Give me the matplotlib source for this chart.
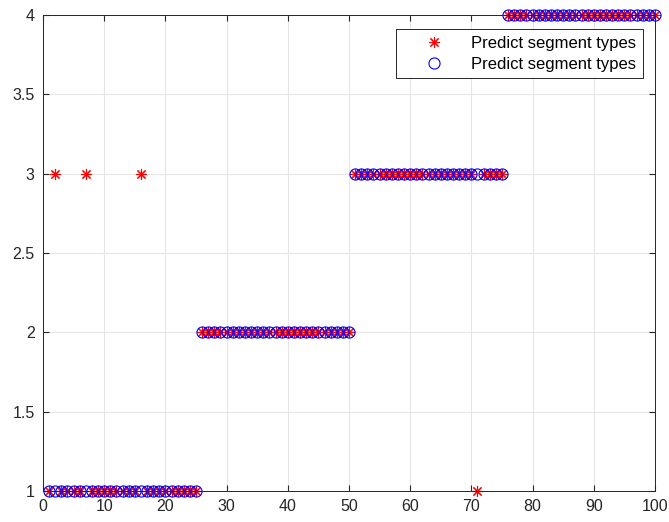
import matplotlib
matplotlib.use("Agg")
import matplotlib.pyplot as plt
import numpy as np

plt.rcParams['font.family'] = ['Liberation Sans', 'DejaVu Sans']

# sample index
idx = np.arange(1, 101)
# true segment types (blue circles)
true_types = [1] * 25 + [2] * 25 + [3] * 25 + [4] * 25
# predicted segment types (red stars)
pred_types = list(true_types)
for i in [2, 7, 16]:
    pred_types[i - 1] = 3
pred_types[71 - 1] = 1

fig = plt.figure(figsize=(6.69, 5.22), dpi=100)
ax = fig.add_axes([0.0643, 0.0594, 0.9147, 0.9119])

ax.plot(idx, pred_types, linestyle='none', marker=(8, 2, 0), color='red',
        markersize=8, markeredgewidth=0.8, clip_on=False,
        label='Predict segment types')
ax.plot(idx, true_types, linestyle='none', marker='o', markerfacecolor='none',
        markeredgecolor='blue', markersize=8, markeredgewidth=0.8,
        clip_on=False, label='Predict segment types')

ax.set_xlim(0, 100)
ax.set_ylim(1, 4)
ax.set_xticks(np.arange(0, 101, 10))
ax.set_yticks([1, 1.5, 2, 2.5, 3, 3.5, 4])
ax.set_yticklabels(['1', '1.5', '2', '2.5', '3', '3.5', '4'])
ax.grid(True, color='#e6e6e6', linewidth=0.8)
ax.set_axisbelow(True)
ax.tick_params(direction='in', labelsize=11.5, colors='#262626', length=4,
               pad=6, top=True, right=True, labeltop=False, labelright=False)
for s in ax.spines.values():
    s.set_color('#262626')
    s.set_linewidth(0.7)

leg = ax.legend(loc='upper right', bbox_to_anchor=(0.98, 0.97), fontsize=12,
                fancybox=False, edgecolor='#262626', framealpha=1,
                borderaxespad=0, handletextpad=0.3, borderpad=0.4,
                handlelength=3.8, labelspacing=0.35)
leg.get_frame().set_linewidth(0.7)

fig.savefig('out.png', dpi=100)
